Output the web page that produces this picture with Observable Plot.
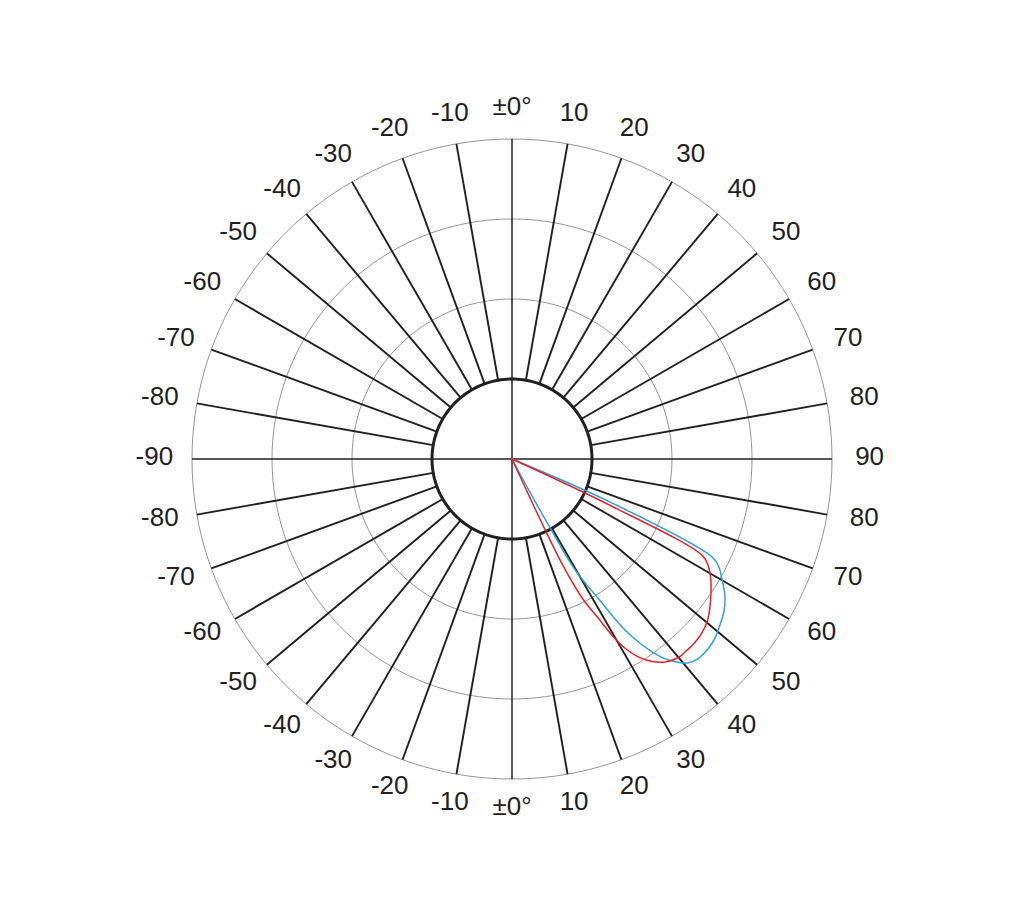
<!DOCTYPE html>
<html>
<head>
<meta charset="utf-8">
<script src="https://cdn.jsdelivr.net/npm/d3@7"></script>
<script src="https://cdn.jsdelivr.net/npm/@observablehq/plot@0.6"></script>
<style>
  html, body { margin: 0; padding: 0; background: #fff; }
  svg { display: block; }
</style>
</head>
<body>
<div id="chart"></div>
<script>
// ---- data ----
// grid rings (intensity units), innermost drawn bold
const ringValues = [2, 3, 4];
const innerRing = 1;
const outerValue = 4;
// spoke directions (degrees clockwise from top)
const spokeAngles = d3.range(0, 360, 10).filter(a => a % 90 !== 0);
const axisAngles = [0, 90];
// angle labels: upper half measured from top, lower half from bottom
const topLabels = [-90, -80, -70, -60, -50, -40, -30, -20, -10, 0, 10, 20, 30, 40, 50, 60, 70, 80, 90];
const bottomLabels = [-80, -70, -60, -50, -40, -30, -20, -10, 0, 10, 20, 30, 40, 50, 60, 70, 80];
const labelRx = 4.47;
const labelRy = 4.375;

// curves: angle from nadir (degrees, toward right) and intensity
const redAngles = [24.8, 24.9, 25.1, 25.6, 26.8, 28.5, 29.6, 30.9, 32.6, 34.7, 37.1, 40.1, 42.2, 44.6, 47.4, 50.4, 53.2, 56.6, 59.2, 61.5, 63.1, 64.7, 65.0];
const redValues = [0, 0.55, 0.99, 1.50, 1.95, 2.27, 2.54, 2.76, 2.94, 3.08, 3.18, 3.24, 3.24, 3.24, 3.22, 3.17, 3.09, 2.98, 2.89, 2.79, 2.67, 1.36, 0];
const blueAngles = [28.0, 28.4, 29.0, 29.5, 30.8, 31.8, 32.6, 33.5, 34.7, 36.0, 37.5, 39.4, 40.9, 42.8, 46.0, 48.8, 51.7, 54.4, 57.6, 60.3, 62.4, 63.9, 66.3, 66.5];
const blueValues = [0, 0.49, 1.03, 1.55, 1.85, 2.06, 2.32, 2.57, 2.79, 2.98, 3.15, 3.29, 3.37, 3.41, 3.41, 3.38, 3.32, 3.26, 3.15, 3.02, 2.92, 2.79, 1.34, 0];

// ---- helpers ----
const rad = d => d * Math.PI / 180;
const px = (phi, r) => r * Math.sin(rad(phi));
const py = (phi, r) => r * Math.cos(rad(phi));

const circlePts = (r) => d3.range(0, 361, 2).map(a => ({x: px(a, r), y: py(a, r), r}));
const rings = ringValues.flatMap(r => circlePts(r));
const inner = circlePts(innerRing);

const spokes = spokeAngles.map(a => ({x1: px(a, innerRing), y1: py(a, innerRing), x2: px(a, outerValue), y2: py(a, outerValue)}));
const axes = axisAngles.map(a => ({x1: px(a, -outerValue), y1: py(a, -outerValue), x2: px(a, outerValue), y2: py(a, outerValue)}));

const fmt = v => v === 0 ? "\u00b10\u00b0" : String(v);
const labels = [
  ...topLabels.map(v => ({phi: v, text: fmt(v)})),
  ...bottomLabels.map(v => ({phi: 180 - v, text: fmt(v)}))
].map(d => ({x: px(d.phi, labelRx), y: py(d.phi, labelRy), text: d.text}));

const curvePts = (angles, values, series) => angles.map((t, i) => ({
  x: values[i] * Math.sin(rad(t)),
  y: -values[i] * Math.cos(rad(t)),
  series
}));
const red = curvePts(redAngles, redValues, "red");
const blue = curvePts(blueAngles, blueValues, "blue");

const W = 1022, H = 918, cx = 511.5, cy = 458.5, unit = 80;
const ink = "#231f20";

const chart = Plot.plot({
  width: W,
  height: H,
  margin: 0,
  x: {domain: [-cx / unit, (W - cx) / unit], axis: null},
  y: {domain: [-(H - cy) / unit, cy / unit], axis: null},
  style: {fontFamily: "'Liberation Sans', Arial, sans-serif", background: "#fff"},
  marks: [
    Plot.line(rings, {x: "x", y: "y", z: "r", stroke: "#7a7a7a", strokeWidth: 0.8}),
    Plot.link(spokes, {x1: "x1", y1: "y1", x2: "x2", y2: "y2", stroke: ink, strokeWidth: 1.9}),
    Plot.link(axes, {x1: "x1", y1: "y1", x2: "x2", y2: "y2", stroke: ink, strokeWidth: 1.5}),
    Plot.line(inner, {x: "x", y: "y", stroke: ink, strokeWidth: 3}),
    Plot.line(blue, {x: "x", y: "y", stroke: "#29a3dc", strokeWidth: 1.5, curve: "catmull-rom"}),
    Plot.line(red, {x: "x", y: "y", stroke: "#e8202a", strokeWidth: 1.5, curve: "catmull-rom"}),
    Plot.text(labels, {x: "x", y: "y", text: "text", fontSize: 26, fill: ink, textAnchor: "middle", lineAnchor: "middle", dy: -2})
  ]
});
document.getElementById("chart").appendChild(chart);
</script>
</body>
</html>
